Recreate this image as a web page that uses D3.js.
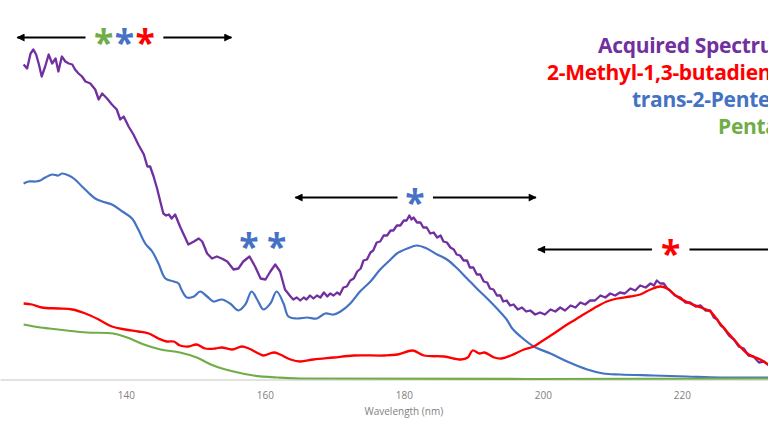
<!DOCTYPE html>
<html>
<head>
<meta charset="utf-8">
<script src="https://cdn.jsdelivr.net/npm/d3@7/dist/d3.min.js"></script>
<style>
  html, body { margin: 0; padding: 0; background: #fff; }
  svg { display: block; font-family: "Open Sans", "Noto Sans", sans-serif; }
</style>
</head>
<body>
<div id="chart"></div>
<script>
// wavelength (nm), absorbance (a.u.)
var acquired = [[125.3,0.314],[125.8,0.310],[126.3,0.325],[126.7,0.329],[127.1,0.324],[127.5,0.314],[127.9,0.302],[128.4,0.312],[128.9,0.324],[129.4,0.315],[129.9,0.320],[130.3,0.307],[130.8,0.322],[131.3,0.317],[131.8,0.315],[132.3,0.314],[132.7,0.309],[133.2,0.305],[133.7,0.302],[134.2,0.297],[134.9,0.295],[135.6,0.289],[136.1,0.279],[136.6,0.285],[137.3,0.280],[138.0,0.274],[138.7,0.269],[139.2,0.259],[139.7,0.262],[140.4,0.252],[141.1,0.244],[141.8,0.234],[142.6,0.224],[143.1,0.212],[143.5,0.212],[144.0,0.202],[144.5,0.190],[145.0,0.176],[145.4,0.165],[145.8,0.163],[146.2,0.164],[146.6,0.160],[147.1,0.164],[147.8,0.152],[148.6,0.140],[149.0,0.134],[149.8,0.137],[150.5,0.140],[151.0,0.137],[151.7,0.125],[152.4,0.120],[153.1,0.122],[153.8,0.120],[154.6,0.117],[155.5,0.109],[156.2,0.110],[156.9,0.117],[157.8,0.122],[158.6,0.112],[159.4,0.100],[160.1,0.099],[160.8,0.107],[161.5,0.114],[162.2,0.107],[162.9,0.089],[163.7,0.082],[164.1,0.079],[164.6,0.081],[165.1,0.078],[165.6,0.081],[166.0,0.079],[166.5,0.083],[167.0,0.080],[167.5,0.083],[168.0,0.081],[168.5,0.086],[169.0,0.082],[169.4,0.085],[169.9,0.083],[170.4,0.086],[170.8,0.084],[171.3,0.091],[171.8,0.092],[172.3,0.098],[172.8,0.100],[173.3,0.107],[173.8,0.110],[174.2,0.118],[174.7,0.119],[175.2,0.126],[175.6,0.128],[176.1,0.136],[176.6,0.137],[177.1,0.143],[177.6,0.143],[178.1,0.148],[178.5,0.148],[179.0,0.153],[179.5,0.153],[180.0,0.158],[180.4,0.158],[180.8,0.163],[181.1,0.159],[181.4,0.161],[181.9,0.156],[182.4,0.156],[182.8,0.151],[183.3,0.151],[183.8,0.145],[184.3,0.146],[184.8,0.141],[185.3,0.143],[185.7,0.137],[186.2,0.136],[186.7,0.131],[187.2,0.129],[187.6,0.124],[188.1,0.123],[188.6,0.118],[189.1,0.118],[189.5,0.111],[190.0,0.111],[190.5,0.104],[191.0,0.104],[191.5,0.097],[192.0,0.096],[192.4,0.090],[192.9,0.089],[193.4,0.083],[193.9,0.083],[194.3,0.077],[194.8,0.078],[195.3,0.073],[195.8,0.074],[196.4,0.069],[197.0,0.071],[197.6,0.067],[198.2,0.068],[198.9,0.064],[199.6,0.066],[200.3,0.064],[201.1,0.069],[201.8,0.067],[202.5,0.071],[203.2,0.068],[204.0,0.073],[204.7,0.071],[205.4,0.076],[206.1,0.074],[206.8,0.078],[207.5,0.078],[208.3,0.083],[209.0,0.081],[209.7,0.085],[210.4,0.083],[211.1,0.086],[211.8,0.085],[212.6,0.090],[213.3,0.088],[214.0,0.093],[214.8,0.091],[215.5,0.095],[216.0,0.093],[216.4,0.098],[216.9,0.095],[217.4,0.095],[217.9,0.090],[218.3,0.088],[219.0,0.083],[219.8,0.081],[220.5,0.076],[221.2,0.076],[222.0,0.072],[222.7,0.073],[223.4,0.068],[224.1,0.068],[224.6,0.061],[225.1,0.059],[225.6,0.053],[226.0,0.051],[226.8,0.043],[227.5,0.039],[228.2,0.032],[228.9,0.030],[229.6,0.023],[230.3,0.022],[231.1,0.016],[231.8,0.017],[232.7,0.012]];

var methylButadiene = [[125.3,0.075],[126.5,0.074],[127.9,0.071],[130.3,0.070],[132.3,0.069],[134.2,0.065],[136.1,0.059],[138.0,0.052],[139.9,0.049],[141.8,0.047],[143.3,0.045],[144.7,0.040],[145.9,0.037],[146.9,0.037],[147.8,0.033],[149.0,0.032],[150.2,0.034],[151.4,0.030],[152.9,0.030],[153.8,0.031],[155.3,0.029],[156.7,0.032],[157.7,0.030],[159.1,0.025],[159.8,0.023],[161.3,0.026],[162.2,0.024],[163.7,0.019],[165.1,0.017],[167.0,0.019],[169.9,0.021],[172.8,0.023],[177.2,0.023],[179.1,0.024],[181.3,0.028],[182.9,0.023],[185.8,0.022],[188.2,0.019],[189.2,0.021],[189.9,0.028],[190.9,0.025],[191.6,0.026],[193.0,0.021],[194.0,0.020],[195.4,0.023],[197.3,0.029],[198.7,0.032],[199.6,0.036],[201.6,0.045],[203.5,0.054],[205.4,0.062],[207.3,0.070],[209.2,0.077],[210.7,0.080],[212.6,0.082],[214.0,0.084],[215.5,0.089],[216.9,0.092],[217.9,0.090],[219.3,0.082],[221.2,0.075],[223.1,0.070],[224.1,0.067],[225.5,0.055],[227.5,0.039],[229.4,0.025],[231.3,0.019],[232.4,0.014]];

var transPentene = [[125.3,0.195],[126.0,0.197],[127.0,0.197],[127.7,0.198],[128.4,0.201],[129.4,0.204],[130.3,0.203],[130.8,0.205],[131.8,0.203],[132.7,0.199],[133.7,0.192],[134.6,0.186],[135.6,0.180],[136.6,0.177],[138.0,0.174],[139.5,0.167],[140.9,0.160],[141.8,0.149],[142.8,0.135],[143.8,0.127],[144.7,0.115],[145.7,0.100],[146.9,0.097],[147.6,0.095],[148.0,0.089],[148.8,0.081],[149.8,0.082],[150.7,0.087],[151.7,0.082],[152.6,0.077],[153.8,0.079],[155.0,0.075],[156.2,0.068],[157.2,0.074],[158.1,0.087],[158.9,0.079],[159.8,0.069],[160.8,0.075],[161.7,0.087],[162.7,0.075],[163.4,0.062],[164.6,0.060],[166.1,0.061],[167.5,0.060],[168.7,0.065],[169.9,0.064],[170.9,0.067],[172.3,0.075],[173.7,0.087],[175.2,0.097],[176.6,0.109],[178.1,0.119],[179.0,0.125],[180.5,0.130],[181.9,0.133],[183.3,0.130],[184.8,0.124],[186.2,0.119],[187.7,0.110],[189.1,0.100],[190.5,0.090],[192.0,0.080],[193.4,0.070],[194.8,0.059],[195.6,0.050],[196.8,0.042],[198.7,0.032],[201.1,0.025],[203.5,0.017],[206.4,0.009],[208.7,0.005],[211.1,0.004],[215.9,0.003],[220.7,0.002],[225.5,0.001],[232.4,0.001]];

var pentane = [[125.3,0.054],[127.7,0.051],[129.0,0.050],[131.5,0.048],[134.4,0.046],[138.2,0.045],[140.2,0.041],[142.6,0.034],[145.0,0.029],[147.8,0.026],[150.2,0.021],[152.6,0.013],[155.5,0.007],[158.4,0.003],[161.8,0.001],[165.1,0.000],[232.4,0.000]];

var seriesNames = ["Acquired Spectrum", "2-Methyl-1,3-butadiene", "trans-2-Pentene", "Pentane"];
var seriesColors = ["#7030a0", "#ff0000", "#4472c4", "#70ad47"];

var xTicks = [140, 160, 180, 200, 220];
var xTitle = "Wavelength (nm)";

// band annotations: asterisks and arrows, in nm / absorbance
var stars = [
  {nm: 136.8, v: 0.342, color: "#70ad47"},
  {nm: 139.8, v: 0.342, color: "#4472c4"},
  {nm: 142.8, v: 0.342, color: "#ff0000"},
  {nm: 157.7, v: 0.138, color: "#4472c4"},
  {nm: 161.7, v: 0.138, color: "#4472c4"},
  {nm: 181.6, v: 0.182, color: "#4472c4"},
  {nm: 218.4, v: 0.131, color: "#ff0000"}
];
var arrows = [
  {from: 134.2, to: 124.4, v: 0.341},
  {from: 145.4, to: 155.2, v: 0.341},
  {from: 179.1, to: 164.4, v: 0.181},
  {from: 184.2, to: 199.0, v: 0.181},
  {from: 215.7, to: 199.3, v: 0.129},
  {from: 221.1, to: 234.2, v: 0.129}
];

var width = 768, height = 432;

var svg = d3.select("#chart").append("svg")
  .attr("width", width)
  .attr("height", height);

var x = d3.scaleLinear().domain([121.9, 232.4]).range([0, width]);
var y = d3.scaleLinear().domain([0, 0.35]).range([378.5, 28.5]);

// x axis (no ticks, light grey baseline)
var axis = svg.append("g")
  .attr("transform", "translate(0," + (y(0) + 1) + ")")
  .call(d3.axisBottom(x).tickValues(xTicks).tickSize(0).tickPadding(12).tickFormat(d3.format("d")));
axis.select(".domain").attr("stroke", "#d9d9d9").attr("stroke-width", 1.5);
axis.selectAll("text")
  .attr("fill", "#7f7f7f")
  .style("font-size", "10px")
  .style("font-family", "'Open Sans', sans-serif");

svg.append("text")
  .attr("x", x(180))
  .attr("y", 415)
  .attr("text-anchor", "middle")
  .attr("fill", "#7f7f7f")
  .style("font-size", "10px")
  .text(xTitle);

// spectra
var smooth = d3.line()
  .x(function(d) { return x(d[0]); })
  .y(function(d) { return y(d[1]); })
  .curve(d3.curveCatmullRom.alpha(0.5));
var rough = d3.line()
  .x(function(d) { return x(d[0]); })
  .y(function(d) { return y(d[1]); });

svg.append("path").datum(acquired)
  .attr("d", rough).attr("fill", "none")
  .attr("stroke", seriesColors[0]).attr("stroke-width", 2.3).attr("stroke-linejoin", "round");
svg.append("path").datum(transPentene)
  .attr("d", smooth).attr("fill", "none")
  .attr("stroke", seriesColors[2]).attr("stroke-width", 2.2);
svg.append("path").datum(pentane)
  .attr("d", smooth).attr("fill", "none")
  .attr("stroke", seriesColors[3]).attr("stroke-width", 2.2);
svg.append("path").datum(methylButadiene)
  .attr("d", smooth).attr("fill", "none")
  .attr("stroke", seriesColors[1]).attr("stroke-width", 2.3);

// legend (right aligned block, runs past the right edge like the source)
var legendStart = [598, 547, 632, 718];
var legendBase = [53, 80, 107, 134];
svg.selectAll(".legend")
  .data(seriesNames)
  .enter().append("text")
  .attr("class", "legend")
  .attr("x", function(d, i) { return legendStart[i]; })
  .attr("y", function(d, i) { return legendBase[i]; })
  .attr("fill", function(d, i) { return seriesColors[i]; })
  .style("font-size", "21px")
  .style("letter-spacing", "-0.3px")
  .style("font-weight", "bold")
  .text(function(d) { return d; });

// arrows
var defs = svg.append("defs");
defs.append("marker")
  .attr("id", "head")
  .attr("viewBox", "0 0 10 10")
  .attr("refX", 9).attr("refY", 5)
  .attr("markerUnits", "userSpaceOnUse")
  .attr("markerWidth", 9).attr("markerHeight", 8)
  .attr("orient", "auto")
  .append("path").attr("d", "M0,0L10,5L0,10z").attr("fill", "#000");

svg.selectAll(".arrow")
  .data(arrows)
  .enter().append("line")
  .attr("class", "arrow")
  .attr("x1", function(d) { return x(d.from); })
  .attr("x2", function(d) { return x(d.to); })
  .attr("y1", function(d) { return y(d.v); })
  .attr("y2", function(d) { return y(d.v); })
  .attr("stroke", "#000")
  .attr("stroke-width", 2)
  .attr("marker-end", "url(#head)");

// asterisks, sized and centred on the glyph box
var ctx = document.createElement("canvas").getContext("2d");
ctx.font = "bold 100px 'Open Sans'";
var m = ctx.measureText("*");
var glyphH = m.actualBoundingBoxAscent + m.actualBoundingBoxDescent;
var starSize = 100 * 17 / glyphH;
var starShift = (m.actualBoundingBoxAscent - m.actualBoundingBoxDescent) / 2 * starSize / 100;

svg.selectAll(".star")
  .data(stars)
  .enter().append("text")
  .attr("class", "star")
  .attr("x", function(d) { return x(d.nm); })
  .attr("y", function(d) { return y(d.v) + starShift; })
  .attr("text-anchor", "middle")
  .attr("fill", function(d) { return d.color; })
  .style("font-size", starSize + "px")
  .style("font-weight", "bold")
  .text("*");
</script>
</body>
</html>
